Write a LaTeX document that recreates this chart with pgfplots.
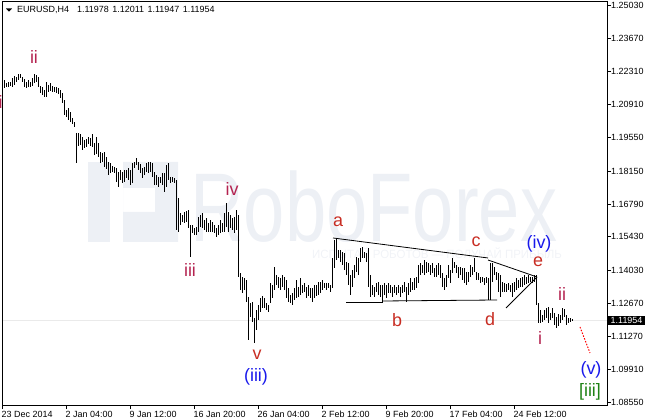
\documentclass[border=0pt]{standalone}
\usepackage{fontspec}
\setmainfont{Liberation Sans}
\usepackage{graphicx}
\usepackage{pgfplots}
\pgfplotsset{compat=1.18}
\usepackage{pgfplotstable}
\definecolor{wm}{RGB}{237,240,245}
\definecolor{wmtwo}{RGB}{241,243,247}
\definecolor{romanc}{RGB}{180,35,80}
\definecolor{letterc}{RGB}{200,45,35}
\definecolor{bluec}{RGB}{25,25,235}
\definecolor{greenc}{RGB}{30,130,20}
\definecolor{bidc}{RGB}{234,234,234}
\newcommand\lab{\fontsize{18}{18}\selectfont}
\newcommand\tk{\fontsize{9}{10}\selectfont}
\pgfplotstableread{
x h l
2 1.22359 1.21611
4 1.21943 1.21611
6 1.21818 1.21652
8 1.21860 1.21652
10 1.21860 1.21694
12 1.22026 1.21652
14 1.22109 1.21735
16 1.22068 1.21860
18 1.22192 1.21943
20 1.22192 1.22026
22 1.22068 1.21860
24 1.21985 1.21652
26 1.21860 1.21611
28 1.21943 1.21652
30 1.21860 1.21652
32 1.22026 1.21694
34 1.22192 1.21818
36 1.22151 1.21860
38 1.22068 1.21652
40 1.21694 1.21403
42 1.21652 1.21320
44 1.21528 1.21237
46 1.21860 1.21237
48 1.21735 1.21445
50 1.21818 1.21486
52 1.21694 1.21445
54 1.21652 1.21445
56 1.21652 1.21403
58 1.21611 1.21361
60 1.21528 1.21195
62 1.21403 1.20988
64 1.21112 1.20489
66 1.20697 1.20406
68 1.20780 1.20281
70 1.20614 1.20198
72 1.20365 1.20115
74 1.20198 1.19991
76 1.19741 1.18495
78 1.19741 1.19201
80 1.19700 1.19243
82 1.19575 1.19035
84 1.19450 1.19118
86 1.19492 1.19160
88 1.19575 1.19284
90 1.19534 1.19201
92 1.19700 1.19160
94 1.19326 1.18827
96 1.19575 1.18869
98 1.19326 1.18744
100 1.18952 1.18495
102 1.18910 1.18536
104 1.18952 1.18329
106 1.18744 1.18246
108 1.18536 1.17996
110 1.18495 1.18079
112 1.18370 1.18121
114 1.18329 1.18079
116 1.18287 1.17705
118 1.18121 1.17498
120 1.18204 1.17788
122 1.18121 1.17664
124 1.18204 1.17705
126 1.18204 1.17872
128 1.18287 1.17788
130 1.18204 1.17581
132 1.18495 1.17664
134 1.18536 1.18287
136 1.18703 1.18412
138 1.18536 1.18204
140 1.18453 1.18079
142 1.18287 1.17872
144 1.18329 1.17996
146 1.18495 1.18121
148 1.18536 1.18079
150 1.18536 1.18121
152 1.18495 1.17913
154 1.18121 1.17581
156 1.17996 1.17581
158 1.17913 1.17498
160 1.17913 1.17664
162 1.18079 1.17581
164 1.18079 1.17290
166 1.18412 1.17498
168 1.18495 1.17788
170 1.17913 1.17664
172 1.17913 1.17705
174 1.17872 1.17664
176 1.17788 1.15711
178 1.17041 1.15628
180 1.16417 1.15919
182 1.16334 1.16043
184 1.16459 1.16002
186 1.16500 1.16043
188 1.16542 1.15794
190 1.15919 1.14589
192 1.15919 1.15586
194 1.15794 1.15503
196 1.15836 1.15503
198 1.16251 1.15628
200 1.16334 1.15836
202 1.16417 1.15794
204 1.16126 1.15711
206 1.16210 1.15628
208 1.16002 1.15628
210 1.16126 1.15628
212 1.16043 1.15628
214 1.15919 1.15586
216 1.15794 1.15420
218 1.15919 1.15503
220 1.16126 1.15586
222 1.16002 1.15628
224 1.16417 1.15628
226 1.16833 1.15836
228 1.16459 1.15628
230 1.16334 1.15794
232 1.16210 1.15711
234 1.16251 1.15586
236 1.16542 1.15711
238 1.16334 1.13758
240 1.13924 1.13218
242 1.13758 1.13093
244 1.13717 1.13218
246 1.13633 1.12719
248 1.12927 1.11140
250 1.12678 1.12096
252 1.12719 1.11888
254 1.12055 1.11016
256 1.12387 1.11556
258 1.12595 1.11971
260 1.12886 1.12304
262 1.12969 1.12470
264 1.12886 1.12470
266 1.12678 1.12387
268 1.12595 1.12304
270 1.13509 1.12678
272 1.13426 1.12886
274 1.14174 1.13218
276 1.13841 1.13426
278 1.13758 1.13301
280 1.13717 1.13218
282 1.13841 1.13343
284 1.13758 1.13218
286 1.13633 1.12886
288 1.13301 1.12719
290 1.13010 1.12678
292 1.13093 1.12595
294 1.13301 1.12802
296 1.13633 1.12886
298 1.13343 1.12927
300 1.13717 1.13010
302 1.13426 1.13093
304 1.13509 1.13135
306 1.13343 1.12886
308 1.13426 1.12969
310 1.13301 1.12886
312 1.13301 1.12719
314 1.13426 1.12886
316 1.13426 1.12969
318 1.13550 1.13010
320 1.13550 1.13093
322 1.13633 1.13218
324 1.13509 1.13301
326 1.13509 1.13218
328 1.13509 1.13301
330 1.13426 1.13135
332 1.14548 1.13301
334 1.15295 1.14132
336 1.15379 1.14464
338 1.14880 1.14548
340 1.14880 1.14381
342 1.14797 1.14257
344 1.14755 1.14049
346 1.14381 1.13841
348 1.14340 1.13426
350 1.13841 1.13010
352 1.14049 1.13343
354 1.14257 1.13717
356 1.14589 1.13966
358 1.14548 1.13841
360 1.14963 1.14381
362 1.15005 1.14548
364 1.14797 1.14548
366 1.14755 1.14381
368 1.14963 1.13343
370 1.13841 1.12927
372 1.13426 1.13010
374 1.13343 1.12927
376 1.13509 1.13135
378 1.13550 1.13010
380 1.13426 1.12927
382 1.13426 1.12719
384 1.13509 1.13010
386 1.13426 1.12886
388 1.13509 1.13093
390 1.13426 1.13093
392 1.13343 1.12927
394 1.13426 1.13093
396 1.13343 1.13010
398 1.13426 1.13093
400 1.13343 1.12927
402 1.13426 1.13093
404 1.13550 1.13135
406 1.13343 1.12719
408 1.13509 1.13010
410 1.13717 1.13135
412 1.13550 1.13218
414 1.13717 1.13218
416 1.13758 1.13301
418 1.14257 1.13509
420 1.14340 1.13841
422 1.14257 1.13924
424 1.14464 1.13841
426 1.14381 1.13924
428 1.14340 1.13966
430 1.14257 1.13841
432 1.14340 1.13924
434 1.14132 1.13758
436 1.14257 1.13758
438 1.14340 1.13841
440 1.14257 1.13717
442 1.13924 1.13343
444 1.13717 1.13218
446 1.13841 1.13343
448 1.14257 1.13717
450 1.14049 1.13509
452 1.14548 1.13924
454 1.14381 1.14132
456 1.14257 1.13924
458 1.14174 1.13717
460 1.14174 1.13841
462 1.14132 1.13633
464 1.14132 1.13509
466 1.13966 1.13426
468 1.13966 1.13550
470 1.14257 1.13758
472 1.14174 1.13841
474 1.14548 1.13966
476 1.13966 1.13633
478 1.13924 1.13633
480 1.13758 1.13509
482 1.13758 1.13550
484 1.13717 1.13426
486 1.13758 1.13509
488 1.13717 1.12802
490 1.14340 1.12802
492 1.14340 1.13550
494 1.14174 1.13841
496 1.13966 1.13633
498 1.13924 1.13135
500 1.13841 1.12927
502 1.13550 1.13135
504 1.13509 1.13135
506 1.13467 1.13135
508 1.13509 1.13218
510 1.13426 1.13135
512 1.13509 1.12927
514 1.13550 1.13135
516 1.13717 1.13218
518 1.13633 1.13301
520 1.13717 1.13343
522 1.13758 1.13343
524 1.13841 1.13426
526 1.13758 1.13467
528 1.13841 1.13509
530 1.13758 1.13550
532 1.13758 1.13509
534 1.13841 1.13550
536 1.13841 1.12595
538 1.12678 1.11847
540 1.12387 1.11847
542 1.12179 1.11888
544 1.12387 1.11971
546 1.12470 1.12055
548 1.12512 1.11847
550 1.12262 1.11971
552 1.12470 1.12055
554 1.12262 1.11764
556 1.12096 1.11639
558 1.12221 1.11722
560 1.12179 1.11847
562 1.12470 1.11971
564 1.12429 1.12096
566 1.12179 1.11764
568 1.12055 1.11847
570 1.12055 1.11888
572 1.12011 1.11947
}\bars
\begin{document}
\begin{tikzpicture}
\begin{axis}[
  scale only axis, width=605bp, height=404bp,
  xmin=2, xmax=607, ymin=1.08439, ymax=1.25225,
  clip=false,
  axis line style={black, line width=0.9bp},
  tick align=outside, major tick length=4bp,
  tick style={black, line width=0.9bp},
  xtick pos=left, ytick pos=right, yticklabel pos=right,
  xtick={2,66,130,194,258,322,386,450,514},
  xticklabels={23 Dec 2014,2 Jan 04:00,9 Jan 12:00,16 Jan 20:00,26 Jan 04:00,2 Feb 12:00,9 Feb 20:00,17 Feb 04:00,24 Feb 12:00},
  ytick={1.25030,1.23670,1.22310,1.20910,1.19550,1.18150,1.16790,1.15430,1.14030,1.12670,1.11270,1.09910,1.08550},
  yticklabels={1.25030,1.23670,1.22310,1.20910,1.19550,1.18150,1.16790,1.15430,1.14030,1.12670,1.11270,1.09910,1.08550},
  xticklabel style={font=\tk, anchor=north west, inner sep=0pt, xshift=-0.5bp, yshift=-2bp},
  yticklabel style={font=\tk, anchor=west, inner sep=0pt, xshift=0bp},
  axis on top,
]
% watermark
\fill[wm] (axis cs:88,1.15212) rectangle (axis cs:110,1.18536);
\fill[wm, even odd rule] (axis cs:123,1.15212) rectangle (axis cs:178,1.18536) (axis cs:123,1.16459) rectangle (axis cs:155,1.17456);
\node[wm, anchor=base west, inner sep=0pt, font=\fontsize{98}{98}\selectfont] at (axis cs:190,1.15212) {\scalebox{0.76}[1]{RoboForex}};
\node[wmtwo, anchor=base west, inner sep=0pt, font=\fontsize{12}{12}\selectfont] at (axis cs:312,1.14506) {\scalebox{0.96}[1]{ИСПЫТАЙ РОБОТОВ — ПОЛУЧАЙ ПРИБЫЛЬ}};
% header
\fill (axis cs:6,1.24914) -- (axis cs:12,1.24914) -- (axis cs:9,1.24781) -- cycle;
\node[anchor=base west, inner sep=0pt, font=\tk] at (axis cs:17,1.24727) {EURUSD,H4};
\node[anchor=base west, inner sep=0pt, font=\tk] at (axis cs:77,1.24727) {1.11978\hspace{3.5bp}1.12011\hspace{3.5bp}1.11947\hspace{3.5bp}1.11954};
% bid line and bars
\addplot[bidc, line width=0.9bp, forget plot] coordinates {(2,1.11954) (607,1.11954)};
\addplot[draw=none, mark=none, forget plot,
  error bars/.cd, y dir=plus, y explicit, error mark=none,
  error bar style={draw=black, line width=1bp}]
  table[x=x, y=l, y error expr=\thisrow{h}-\thisrow{l}] {\bars};
% trend lines
\addplot[black, line width=0.8bp, forget plot] coordinates {(333,1.15379) (488,1.14548)};
\addplot[black, line width=0.8bp, forget plot] coordinates {(488,1.14464) (537,1.13758)};
\addplot[black, line width=0.8bp, forget plot] coordinates {(346,1.12719) (383,1.12719)};
\addplot[black, line width=0.8bp, forget plot] coordinates {(383,1.12761) (497,1.12802)};
\addplot[black, line width=0.8bp, forget plot] coordinates {(506,1.12470) (537,1.13758)};
\addplot[red, line width=1bp, dash pattern=on 1.5bp off 1.5bp, forget plot] coordinates {(580,1.11681) (590,1.10600)};
% labels
\node[romanc, font=\lab, inner sep=0pt] at (axis cs:0.5,1.21029) {i};
\node[romanc, font=\lab, inner sep=0pt] at (axis cs:34,1.22899) {ii};
\node[romanc, font=\lab, inner sep=0pt] at (axis cs:190,1.14049) {iii};
\node[romanc, font=\lab, inner sep=0pt] at (axis cs:232,1.17415) {iv};
\node[letterc, font=\lab, inner sep=0pt] at (axis cs:257,1.10517) {v};
\node[bluec, font=\lab, inner sep=0pt] at (axis cs:256,1.09603) {(iii)};
\node[letterc, font=\lab, inner sep=0pt] at (axis cs:338,1.16043) {a};
\node[letterc, font=\lab, inner sep=0pt] at (axis cs:397,1.11971) {b};
\node[letterc, font=\lab, inner sep=0pt] at (axis cs:476,1.15212) {c};
\node[letterc, font=\lab, inner sep=0pt] at (axis cs:490,1.12013) {d};
\node[letterc, font=\lab, inner sep=0pt] at (axis cs:538,1.14381) {e};
\node[bluec, font=\lab, inner sep=0pt] at (axis cs:539,1.15129) {(iv)};
\node[romanc, font=\lab, inner sep=0pt] at (axis cs:540,1.11224) {i};
\node[romanc, font=\lab, inner sep=0pt] at (axis cs:562,1.13052) {ii};
\node[bluec, font=\lab, inner sep=0pt] at (axis cs:591,1.09893) {(v)};
\node[greenc, font=\lab, inner sep=0pt] at (axis cs:590,1.08979) {[iii]};
% bid box
\node[fill=black, text=white, anchor=west, inner xsep=3bp, inner ysep=1.7bp, font=\tk] at (axis cs:607.5,1.11954) {1.11954};
% page corners
\coordinate (BL) at (axis cs:0,1.07816);
\coordinate (TR) at (axis cs:650,1.25267);
\end{axis}
\pgfresetboundingbox
\path[use as bounding box] (BL) rectangle (TR);
\end{tikzpicture}
\end{document}
